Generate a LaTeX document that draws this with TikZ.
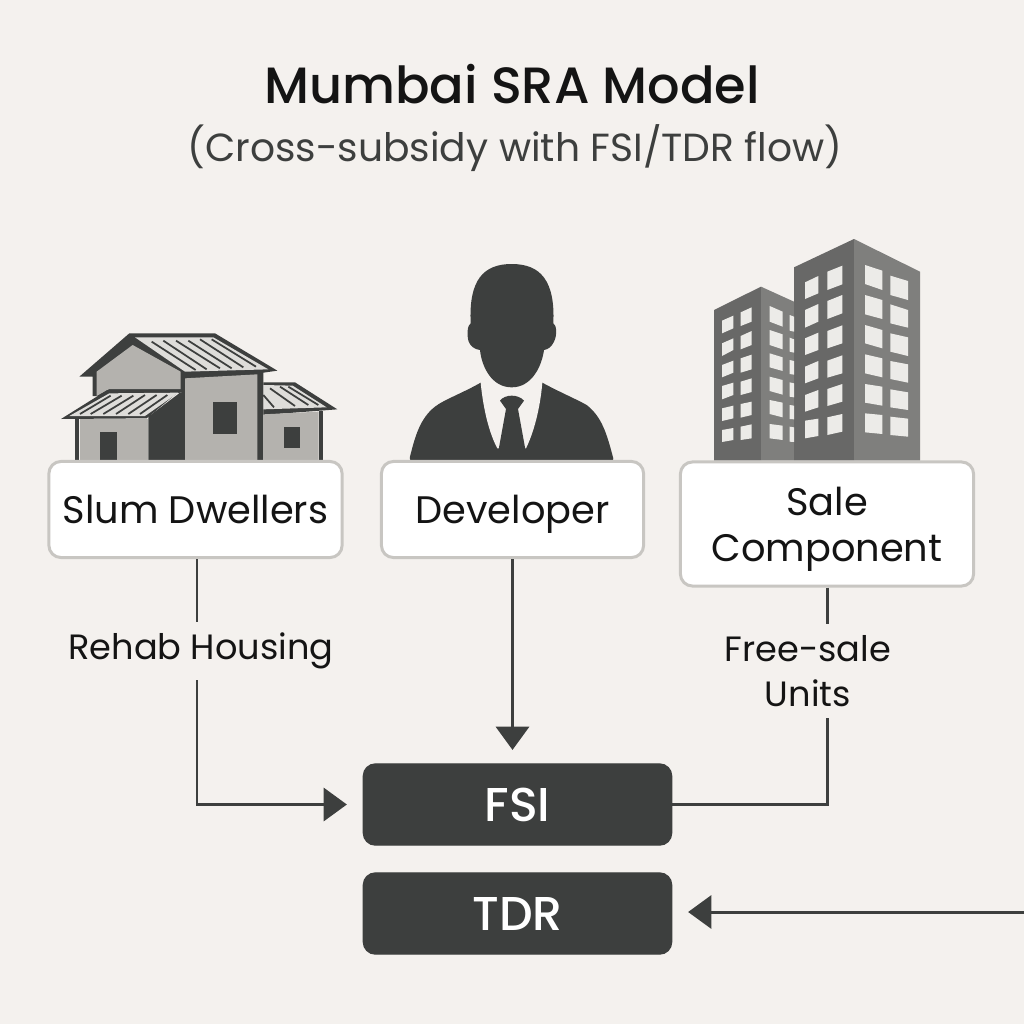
\documentclass[tikz,border=0pt]{standalone}
\usepackage{fontspec}
\usetikzlibrary{arrows.meta}
\setsansfont{Poppins}
\newfontfamily\titlefont[UprightFont=* Medium]{Poppins}
\definecolor{bgcol}{HTML}{F4F1EE}
\definecolor{inkcol}{HTML}{3D3F3E}
\definecolor{rimcol}{HTML}{C8C6C2}
\definecolor{wallcol}{HTML}{B4B2AE}
\definecolor{roofcol}{HTML}{DEDDDA}
\definecolor{facedark}{HTML}{686867}
\definecolor{facelight}{HTML}{7F7F7D}
\definecolor{wincol}{HTML}{ECEBE8}
\tikzset{
  whitebox/.style={draw=rimcol, line width=.85pt, fill=white, rounded corners=.12cm, align=center, text depth=0pt,
    text=black!92, font=\sffamily\fontsize{10.9}{13}\selectfont, minimum width=2.93cm, inner sep=0},
  darkbox/.style={draw=inkcol, fill=inkcol, rounded corners=.12cm, text=white,
    font=\titlefont\fontsize{13.5}{15}\selectfont, minimum width=3.08cm, minimum height=.81cm},
  flowlabel/.style={fill=bgcol, align=center, text=black!92, inner xsep=1pt, inner ysep=3pt,
    font=\sffamily\fontsize{10}{13}\selectfont},
  flow/.style={draw=inkcol, line width=.85pt},
  flowarrow/.style={flow, -{Triangle[length=6.6pt, width=9.4pt]}},
}
\begin{document}
\begin{tikzpicture}[x=.01cm, y=-.01cm]
\fill[bgcol] (0,0) rectangle (1024,1024);
\useasboundingbox (0,0) rectangle (1024,1024);
\node[text=black!92, font=\titlefont\fontsize{14.5}{16}\selectfont] (title) at (512,84) {Mumbai SRA Model};
\node[text=inkcol, font=\sffamily\fontsize{11.15}{14}\selectfont] (subtitle) at (515,148) {(Cross-subsidy with FSI/TDR flow)};

% house
\begin{scope}[shift={(50,320)}, scale=1/3]
\fill[inkcol] (88,170)--(238,40)--(495,40)--(682,152)--(640,158)--(640,422)--(395,422)--(395,218)--(140,228)--(128,228)--(128,170)--cycle;
\fill[wallcol] (140,155)--(248,75)--(392,155)--(392,207)--(178,207)--(140,228)--cycle;
\fill[roofcol] (255,52)--(490,52)--(655,148)--(405,155)--cycle;
\foreach \xa/\ya/\xb/\yb in {305/65/437/150, 340/62/470/148, 378/62/510/145, 415/62/545/145, 450/58/580/142, 485/58/618/140}
  \draw[inkcol, line width=.5pt] (\xa,\ya)--(\xb,\yb);
\fill[wallcol] (405,175)--(622,163)--(622,422)--(405,422)--cycle;
\fill[inkcol] (490,247) rectangle (562,342);
\fill[inkcol] (295,290)--(390,218)--(402,218)--(402,422)--(295,422)--cycle;
\fill[inkcol] (33,297)--(172,210)--(392,210)--(290,295)--cycle;
\fill[roofcol] (58,288)--(178,220)--(385,218)--(285,288)--cycle;
\foreach \xa/\ya/\xb/\yb in {90/282/182/227, 122/282/215/227, 160/282/250/227, 198/282/285/225, 235/282/320/225, 270/282/352/225}
  \draw[inkcol, line width=.5pt] (\xa,\ya)--(\xb,\yb);
\fill[inkcol] (75,295) rectangle (88,422);
\fill[wallcol] (90,297) rectangle (295,422);
\fill[inkcol] (150,335) rectangle (202,420);
\fill[inkcol] (640,187)--(735,187)--(862,268)--(640,285)--cycle;
\fill[roofcol] (640,195)--(728,197)--(830,262)--(640,268)--cycle;
\foreach \xa/\ya/\xb/\yb in {640/225/672/262, 660/205/735/258, 690/200/775/255, 715/200/805/255}
  \draw[inkcol, line width=.5pt] (\xa,\ya)--(\xb,\yb);
\fill[wallcol] (640,283)--(806,275)--(806,422)--(640,422)--cycle;
\fill[inkcol] (806,272) rectangle (820,422);
\fill[inkcol] (703,322) rectangle (750,384);
\end{scope}

% person
\begin{scope}[shift={(400,260)}, scale=1/3]
\fill[inkcol] (242,368) .. controls (190,398) and (130,420) .. (105,440) .. controls (60,475) and (45,530) .. (30,590)
  .. controls (28,600) and (32,603) .. (40,603) -- (630,603) .. controls (640,603) and (642,598) .. (638,588)
  .. controls (620,520) and (605,470) .. (560,435) .. controls (530,418) and (470,392) .. (427,368) -- cycle;
\fill[bgcol] (242,355) -- (242,368) .. controls (250,450) and (268,520) .. (292,565) -- (378,565) .. controls (400,520) and (420,450) .. (427,368) -- (427,355) -- cycle;
\fill[inkcol] (300,422) .. controls (315,402) and (355,402) .. (372,422) -- (354,447) -- (380,590) -- (292,590) -- (318,447) -- cycle;
\fill[inkcol] (212,190) .. controls (206,60) and (250,12) .. (335,12) .. controls (420,12) and (466,60) .. (460,190)
  .. controls (470,195) and (472,225) .. (462,245) .. controls (455,260) and (445,268) .. (432,270)
  .. controls (425,320) and (395,382) .. (335,382) .. controls (275,382) and (245,320) .. (240,270)
  .. controls (225,268) and (212,260) .. (206,245) .. controls (200,225) and (202,195) .. (212,190) -- cycle;
\end{scope}

% towers
\begin{scope}[shift={(700,230)}, scale=1/3]
\fill[facedark] (42,240)--(183,170)--(183,692)--(42,692)--cycle;
\fill[facelight] (183,170)--(282,215)--(282,692)--(183,692)--cycle;
\fill[facedark] (282,112)--(462,27)--(462,692)--(282,692)--cycle;
\fill[facelight] (462,27)--(660,125)--(660,692)--(462,692)--cycle;
\foreach \xa/\xb/\rows in {
  66/100/{272/257/310/295, 340/325/378/360, 405/392/442/428, 468/458/508/495, 535/527/573/565, 600/594/636/630},
  122/155/{247/232/288/275, 318/303/358/345, 385/374/428/418, 455/445/495/486, 522/515/563/555, 590/583/630/625},
  209/248/{228/245/275/290, 300/313/345/358, 370/382/412/423, 440/450/483/494, 510/518/552/562, 582/587/625/630},
  269/282/{255/260/302/305, 323/328/365/368, 390/393/432/434, 457/460/500/502, 525/527/567/568, 590/592/635/636},
  315/355/{157/138/207/190, 240/222/293/275, 325/308/375/360, 410/393/460/445, 495/480/545/532, 572/566/625/618},
  382/427/{125/107/180/163, 213/195/267/250, 303/286/355/340, 392/376/443/430, 477/462/528/515, 562/552/615/605},
  495/547/{105/122/162/180, 195/210/253/267, 285/300/340/355, 373/385/430/442, 462/470/518/527, 550/555/607/612},
  571/624/{137/153/195/210, 223/240/280/293, 310/322/365/378, 393/403/447/458, 478/487/532/540, 560/566/615/620}}
  \foreach \ta/\tb/\ba/\bb in \rows
    \fill[wincol] (\xa,\ta)--(\xb,\tb)--(\xb,\bb)--(\xa,\ba)--cycle;
\end{scope}

% boxes
\node[whitebox, minimum height=.96cm] (slum) at (195.5,509.5) {Slum Dwellers};
\node[whitebox, minimum width=2.62cm, minimum height=.96cm] (developer) at (512.5,509.5) {Developer};
\node[whitebox, minimum height=1.24cm] (sale) at (827,524) {Sale\\Component};
\node[darkbox] (fsi) at (517.5,804.5) {FSI};
\node[darkbox] (tdr) at (517.5,913.5) {TDR};
\coordinate (tdrin) at (1024,912);

% flows
\draw[flowarrow, shorten >=4.5pt] (slum.south -| 197,0) |- (fsi.west)
  node[flowlabel, pos=.187, xshift=.04cm] (rehab) {Rehab Housing};
\draw[flowarrow, shorten >=3.8pt] (developer.south) -- (developer.south |- fsi.north);
\draw[flow] (sale.south) |- (fsi.east);
\node[flowlabel] (freesale) at (808,671) {Free-sale\\Units};
\draw[flowarrow, shorten >=4.5pt] (tdrin) -- (tdrin -| tdr.east);
\end{tikzpicture}
\end{document}
